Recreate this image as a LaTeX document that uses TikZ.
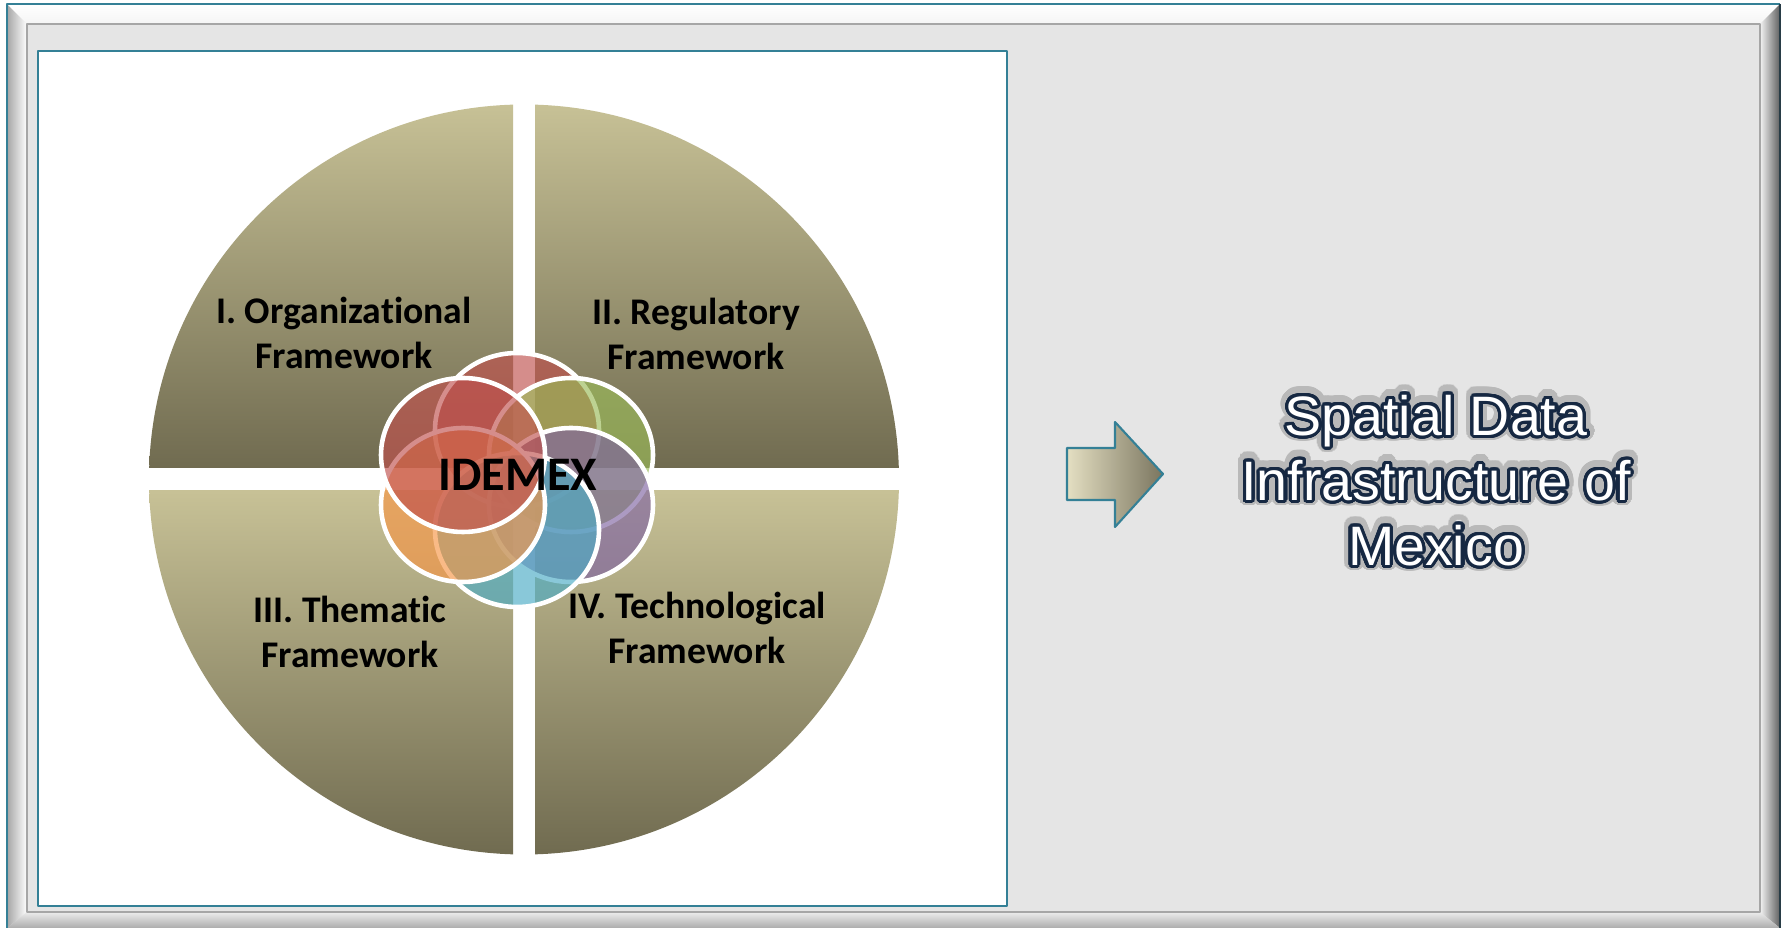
\documentclass[tikz,border=0pt]{standalone}
\usepackage{fontspec}
\usepackage{contour}
\newfontfamily\carlito[Ligatures=NoCommon]{Carlito}
\newfontfamily\arialfont{Liberation Sans}
\definecolor{frameteal}{RGB}{52,128,150}
\definecolor{frameslate}{RGB}{40,60,70}
\definecolor{panelgray}{RGB}{229,229,229}
\definecolor{paneltan}{RGB}{199,193,150}
\definecolor{paneldark}{RGB}{112,107,80}
\definecolor{arrowlight}{RGB}{228,223,194}
\definecolor{arrowdark}{RGB}{122,117,95}
\definecolor{navytext}{RGB}{22,40,66}
\definecolor{glowgray}{RGB}{185,185,185}
\definecolor{accred}{RGB}{192,80,77}
\definecolor{accgreen}{RGB}{155,187,89}
\definecolor{accpurple}{RGB}{128,100,162}
\definecolor{accaqua}{RGB}{75,172,198}
\definecolor{accorange}{RGB}{247,150,70}
\contournumber{32}
\newcommand\glowline[1]{{\contourlength{2.2pt}\contour{glowgray}{\textcolor{glowgray}{#1}}}}
\newcommand\outline[1]{{\contourlength{0.9pt}\contour{navytext}{\textcolor{white}{#1}}}}
\begin{document}
\begin{tikzpicture}[x=0.01cm,y=-0.01cm,line join=round,
    quadlabel/.style={font=\carlito\bfseries\fontsize{10.7}{12.7}\selectfont,align=center},
    petal/.style={draw=white,line width=1.3pt,fill opacity=0.65},
    sditext/.style={font=\arialfont\fontsize{15.8}{18.5}\selectfont,align=center}]
  \useasboundingbox (0,0) rectangle (1787,928);
  % bevelled frame
  \fill[panelgray] (7,4) rectangle (1780,928);
  \shade[left color=gray!70,right color=white] (7,4) -- (27,24) -- (27,912) -- (7,928) -- cycle;
  \shade[top color=white,bottom color=gray!8] (7,4) -- (1780,4) -- (1760,24) -- (27,24) -- cycle;
  \shade[left color=gray!10,right color=gray!75!black] (1780,4) -- (1780,928) -- (1760,912) -- (1760,24) -- cycle;
  \shade[top color=gray!15,bottom color=gray!65] (7,928) -- (27,912) -- (1760,912) -- (1780,928) -- cycle;
  \draw[frameteal,line width=0.7pt] (7,928) -- (7,4) -- (1780,4);
  \draw[frameslate,line width=0.7pt] (1780,4) -- (1780,928);
  \draw[gray!70,line width=0.3pt] (27,24) rectangle (1760,912);
  \filldraw[fill=white,draw=frameteal,line width=0.6pt] (38,51) rectangle (1007,906);
  % four frameworks
  \def\cx{524}
  \def\cy{479.5}
  \begin{scope}
    \clip (\cx,\cy) circle (375);
    \shade[top color=paneltan,bottom color=paneldark] (140,104) rectangle (513,468);
    \shade[top color=paneltan,bottom color=paneldark] (535,104) rectangle (910,468);
    \shade[top color=paneltan,bottom color=paneldark] (140,491) rectangle (513,855);
    \shade[top color=paneltan,bottom color=paneldark] (535,491) rectangle (910,855);
  \end{scope}
  % IDEMEX flower
  \def\fx{517}
  \def\fy{480}
  \foreach \dx/\dy/\col in {0/-50/accred,54/-25/accgreen,54/25/accpurple,0/50/accaqua,-54/25/accorange,-54/-25/accred}
    \filldraw[petal,fill=\col] (\fx+\dx,\fy+\dy) ellipse [x radius=82,y radius=77];
  \node[font=\carlito\bfseries\fontsize{13.7}{16}\selectfont] (idemex) at (518,475) {IDEMEX};
  \node[quadlabel] (orgfw) at (344,333) {I. Organizational\\Framework};
  \node[quadlabel] (regfw) at (696,334) {II. Regulatory\\Framework};
  \node[quadlabel] (thmfw) at (350,632) {III. Thematic\\Framework};
  \node[quadlabel] (tecfw) at (697,628) {IV. Technological\\Framework};
  % arrow and result
  \shadedraw[left color=arrowlight,right color=arrowdark,draw=frameteal,line width=0.6pt]
    (1067,448) -- (1115,448) -- (1115,422) -- (1163,474) -- (1115,527) -- (1115,500) -- (1067,500) -- cycle;
  \node[sditext] (sdiglow) at (1436,482) {\glowline{Spatial Data}\\\glowline{Infrastructure of}\\\glowline{Mexico}};
  \node[sditext] (sdi) at (1436,482) {\outline{Spatial Data}\\\outline{Infrastructure of}\\\outline{Mexico}};
\end{tikzpicture}
\end{document}
